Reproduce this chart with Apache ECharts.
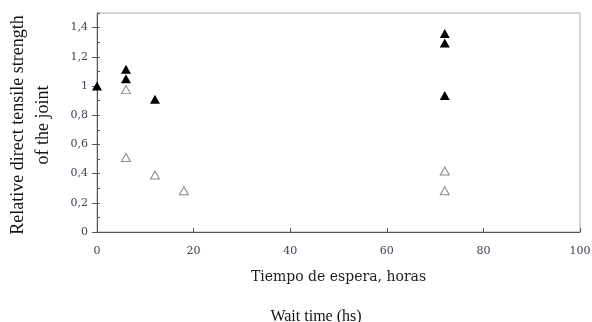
<!DOCTYPE html>
<html><head><meta charset="utf-8">
<script src="https://cdn.jsdelivr.net/npm/echarts@6/dist/echarts.min.js"></script>
<style>html,body{margin:0;padding:0;background:#fff}#c{width:592px;height:322px}</style>
</head><body><div id="c"></div>
<script>
const filledX = [0, 6, 6, 12, 72, 72, 72];
const filledY = [1.0, 1.115, 1.05, 0.91, 1.36, 1.295, 0.935];
const hollowX = [6, 6, 12, 18, 72, 72];
const hollowY = [0.975, 0.51, 0.39, 0.283, 0.418, 0.282];
const xTicks = [0, 20, 40, 60, 80, 100];
const yTicks = [0, 0.2, 0.4, 0.6, 0.8, 1, 1.2, 1.4];
const xTitle = 'Tiempo de espera, horas';
const yTitleLines = ['Relative direct tensile strength', 'of the joint'];
const bottomTitle = 'Wait time (hs)';

const chart = echarts.init(document.getElementById('c'), null, {renderer: 'canvas'});
const tickColor = '#3d4458';
const yTitleStyle = {fontFamily: 'Liberation Serif', fontSize: 18, fill: '#111', align: 'center', verticalAlign: 'middle'};
chart.setOption({
  animation: false,
  graphic: [
    {type: 'text', x: 18, y: 125, rotation: Math.PI / 2, style: Object.assign({text: yTitleLines[0]}, yTitleStyle)},
    {type: 'text', x: 43, y: 125, rotation: Math.PI / 2, style: Object.assign({text: yTitleLines[1]}, yTitleStyle)},
    {type: 'text', x: 316, y: 317, style: Object.assign({text: bottomTitle}, yTitleStyle, {fontSize: 16})}
  ],
  grid: {left: 97, right: 12, top: 13, bottom: 90, show: true, borderColor: '#aaa', borderWidth: 1,
    containLabel: false, outerBoundsMode: 'none'},
  xAxis: {
    type: 'value', min: 0, max: 100, interval: 20,
    name: xTitle, nameLocation: 'middle', nameGap: 38,
    nameTextStyle: {fontFamily: 'DejaVu Serif', fontSize: 14, color: '#222'},
    axisLine: {lineStyle: {color: '#555', width: 1}},
    axisTick: {inside: true, length: 4, lineStyle: {color: '#555'}},
    axisLabel: {fontFamily: 'DejaVu Serif', fontSize: 11, color: tickColor, margin: 14,
      formatter: v => xTicks.includes(v) ? String(v) : ''},
    splitLine: {show: false}
  },
  yAxis: [{
    type: 'value', min: 0, max: 1.5, interval: 0.2,
    axisLine: {show: true, lineStyle: {color: '#555', width: 1}},
    axisTick: {show: true, length: 5, lineStyle: {color: '#555'}},
    axisLabel: {fontFamily: 'DejaVu Serif', fontSize: 11, color: tickColor, margin: 9,
      showMaxLabel: false,
      formatter: v => {
        const t = yTicks.find(k => Math.abs(k - v) < 1e-9);
        return t === undefined ? '' : String(Math.round(t * 10) / 10).replace('.', ',');
      }},
    splitLine: {show: false}
  }, {
    type: 'value', min: 0, max: 1.5, interval: 0.1, position: 'left',
    axisLine: {show: false},
    axisTick: {show: true, inside: true, length: 3, lineStyle: {color: '#555'}},
    axisLabel: {show: false},
    splitLine: {show: false}
  }],
  series: [{
    type: 'scatter', yAxisIndex: 0, symbol: 'triangle', symbolSize: [10, 9],
    itemStyle: {color: '#000', opacity: 1},
    data: filledX.map((x, i) => [x, filledY[i]]), z: 3
  }, {
    type: 'scatter', yAxisIndex: 0, symbol: 'triangle', symbolSize: [9, 8],
    itemStyle: {color: '#fff', borderColor: '#888', borderWidth: 1, opacity: 1},
    data: hollowX.map((x, i) => [x, hollowY[i]]), z: 2
  }]
});
</script></body></html>
